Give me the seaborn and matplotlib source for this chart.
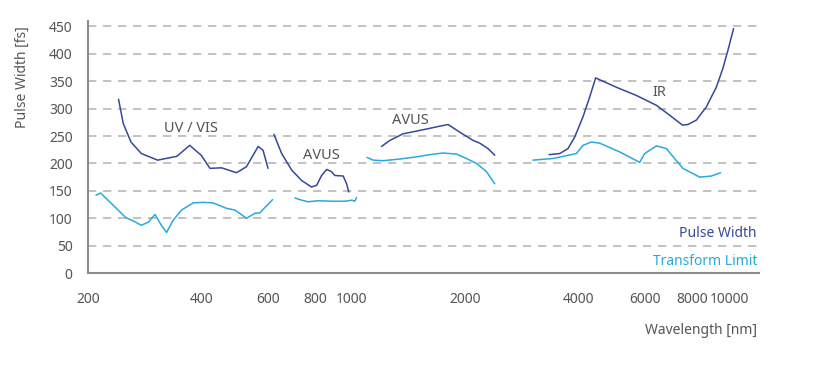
import matplotlib
matplotlib.use("Agg")
import matplotlib.pyplot as plt
from matplotlib.ticker import FixedLocator, FixedFormatter
import seaborn as sns
import pandas as pd

# Pulse width curves (dark blue), one list per tuning range
uv_pw_nm = [241, 248, 260, 277, 306, 344, 372, 399, 421, 452, 495, 526, 565, 582, 600]
uv_pw_fs = [317, 273, 239, 218, 206, 213, 233, 215, 191, 192, 183, 194, 231, 224, 191]

avus1_pw_nm = [622, 652, 693, 736, 782, 807, 832, 858, 884, 902, 949, 969, 982]
avus1_pw_fs = [253, 218, 188, 169, 157, 160, 178, 189, 185, 178, 177, 163, 148]

avus2_pw_nm = [1199, 1262, 1368, 1485, 1610, 1711, 1800, 1933, 2096, 2184, 2297, 2393]
avus2_pw_fs = [231, 242, 254, 259, 264, 268, 271, 257, 242, 237, 227, 215]

ir_pw_nm = [3333, 3557, 3741, 3897, 4100, 4270, 4429, 5025, 5679, 6418, 6956, 7517,
            7778, 8186, 8701, 9247, 9623, 9924, 10276]
ir_pw_fs = [216, 218, 227, 248, 285, 321, 356, 339, 324, 306, 288, 270,
            271, 279, 303, 339, 373, 406, 446]

# Transform limit curves (light blue)
uv_tl_nm = [210, 216, 233, 252, 264, 277, 289, 301, 313, 323, 336, 354, 380, 404,
            429, 466, 490, 526, 554, 571, 617]
uv_tl_fs = [142, 146, 124, 101, 95, 87, 93, 107, 87, 74, 96, 115, 128, 129,
            128, 118, 115, 100, 109, 110, 134]

avus1_tl_nm = [707, 736, 766, 815, 884, 959, 1002, 1019, 1030]
avus1_tl_fs = [137, 133, 130, 132, 131, 131, 133, 131, 138]

avus2_tl_nm = [1098, 1139, 1211, 1341, 1485, 1610, 1746, 1894, 2013, 2140, 2275, 2393]
avus2_tl_fs = [211, 206, 205, 208, 212, 216, 219, 217, 209, 200, 185, 163]

ir_tl_nm = [3022, 3415, 3938, 4100, 4316, 4539, 5127, 5795, 5973, 6418, 6818,
            7543, 8354, 8969, 9494]
ir_tl_fs = [206, 209, 218, 233, 239, 237, 221, 202, 218, 232, 227,
            191, 175, 177, 183]

x_ticks_minor = [200, 400, 600, 800, 2000, 4000, 6000, 8000]
x_ticks_major = [1000, 10000]
y_ticks = list(range(0, 451, 50))

labels = [("UV / VIS", 375, 264), ("AVUS", 833, 215), ("AVUS", 1434, 279), ("IR", 6544, 330)]

PW_COLOR = "#34499b"
TL_COLOR = "#29a9e0"
TEXT_COLOR = "#555555"
AXIS_COLOR = "#8c8c8c"

segments = [
    ("Pulse Width", "UV/VIS", uv_pw_nm, uv_pw_fs),
    ("Pulse Width", "AVUS1", avus1_pw_nm, avus1_pw_fs),
    ("Pulse Width", "AVUS2", avus2_pw_nm, avus2_pw_fs),
    ("Pulse Width", "IR", ir_pw_nm, ir_pw_fs),
    ("Transform Limit", "UV/VIS", uv_tl_nm, uv_tl_fs),
    ("Transform Limit", "AVUS1", avus1_tl_nm, avus1_tl_fs),
    ("Transform Limit", "AVUS2", avus2_tl_nm, avus2_tl_fs),
    ("Transform Limit", "IR", ir_tl_nm, ir_tl_fs),
]

rows = []
for series, rng, xs, ys in segments:
    for x, y in zip(xs, ys):
        rows.append({"series": series, "range": rng, "wavelength": x, "fs": y})
df = pd.DataFrame(rows)

sns.set_style("white")
plt.rcParams["font.family"] = ["Noto Sans", "DejaVu Sans"]

fig = plt.figure(figsize=(8.17, 3.67), dpi=100)
ax = fig.add_axes([0.1077, 0.256, 0.8213, 0.687])

sns.lineplot(data=df, x="wavelength", y="fs", hue="series", units="range",
             estimator=None, sort=False,
             palette={"Pulse Width": PW_COLOR, "Transform Limit": TL_COLOR},
             linewidth=1.1, legend=False, ax=ax)

ax.set_xscale("log")
ax.set_xlim(200, 12000)
ax.set_ylim(0, 460)

ax.xaxis.set_major_locator(FixedLocator(x_ticks_major))
ax.xaxis.set_major_formatter(FixedFormatter([str(v) for v in x_ticks_major]))
ax.xaxis.set_minor_locator(FixedLocator(x_ticks_minor))
ax.xaxis.set_minor_formatter(FixedFormatter([str(v) for v in x_ticks_minor]))
ax.set_yticks(y_ticks)

for y in y_ticks[1:]:
    ax.axhline(y, color="#b8b8b8", lw=1.2, ls=(0, (5, 4)), zorder=0)

ax.tick_params(axis="x", which="major", length=6, width=1.2, color=AXIS_COLOR,
               labelsize=10, labelcolor=TEXT_COLOR, pad=8)
ax.tick_params(axis="x", which="minor", length=4, width=1.2, color=AXIS_COLOR,
               labelsize=10, labelcolor=TEXT_COLOR, pad=10)
ax.tick_params(axis="y", length=5, width=1.2, color=AXIS_COLOR,
               labelsize=10, labelcolor=TEXT_COLOR, pad=6)

for side in ["top", "right"]:
    ax.spines[side].set_visible(False)
for side in ["left", "bottom"]:
    ax.spines[side].set_color(AXIS_COLOR)
    ax.spines[side].set_linewidth(1.5)

ax.set_ylabel("Pulse Width [fs]", color=TEXT_COLOR, fontsize=10)
ax.yaxis.set_label_coords(-0.087, 0.778)
ax.set_xlabel("Wavelength [nm]", color=TEXT_COLOR, fontsize=10, ha="right")
ax.xaxis.set_label_coords(0.997, -0.2)

for text, x, y in labels:
    ax.text(x, y, text, color=TEXT_COLOR, fontsize=10.5, ha="center", va="center")

ax.text(0.997, 0.155, "Pulse Width", transform=ax.transAxes, color=PW_COLOR,
        fontsize=10, ha="right", va="center")
ax.text(0.997, 0.044, "Transform Limit", transform=ax.transAxes, color=TL_COLOR,
        fontsize=10, ha="right", va="center")

fig.savefig("out.png", dpi=100)
